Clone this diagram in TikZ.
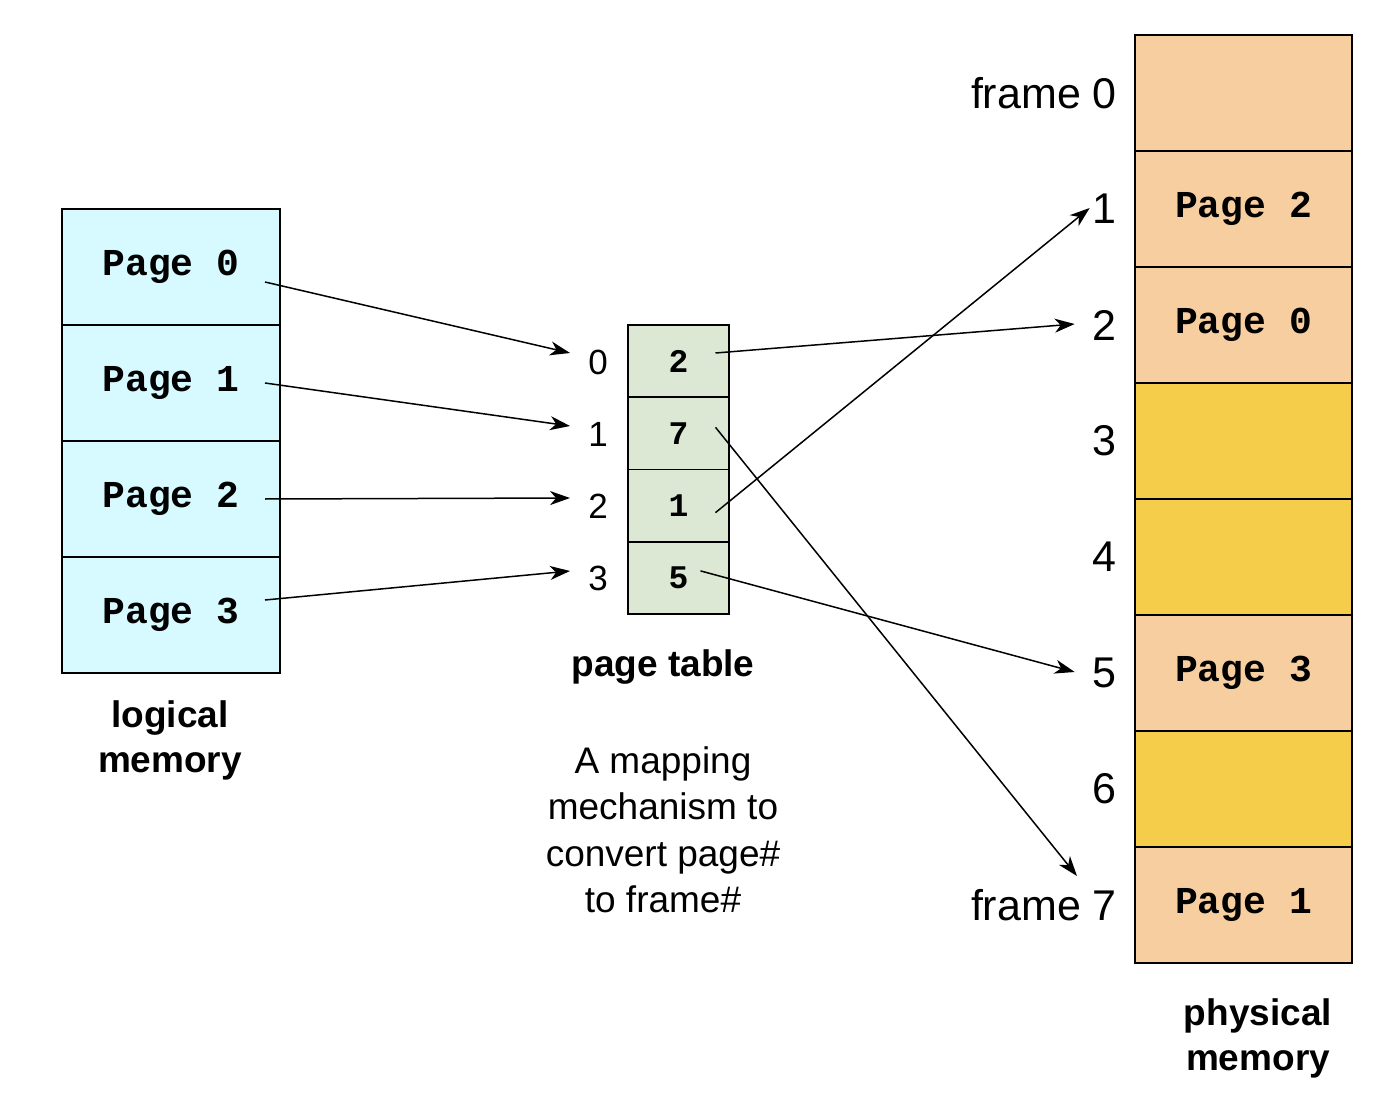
\documentclass[tikz,border=0pt]{standalone}
\usepackage{fontspec}
\setmainfont{Liberation Sans}
\setmonofont{Liberation Mono}
\usetikzlibrary{
  arrows.meta,
  calc
}
\definecolor{logicfill}{RGB}{214,250,255}
\definecolor{tablefill}{RGB}{221,232,212}
\definecolor{peach}{RGB}{246,206,160}
\definecolor{gold}{RGB}{245,205,74}
\tikzset{
  % For all memory cells.
  cell/.style={
    draw,
    line width=1.8pt,
    inner sep=0pt,
    outer sep=0pt},
%
  % For cells of logical memory.
  lcell/.style={
    cell,
    fill=logicfill,
    minimum width=218pt,
    minimum height=116pt,
    font=\fontsize{38}{40}\selectfont\ttfamily\bfseries},
%
  % For cells of the page table.
  tcell/.style={
    cell,
    fill=tablefill,
    minimum width=101pt,
    minimum height=72.3pt,
    font=\fontsize{33}{36}\selectfont\ttfamily\bfseries},
%
  % For frames of physical memory.
  pcell/.style={
    cell,
    minimum width=217pt,
    minimum height=116pt,
    font=\fontsize{38}{40}\selectfont\ttfamily\bfseries},
%
  % For page numbers left of the table.
  index/.style={
    inner sep=0pt,
    font=\fontsize{35}{38}\selectfont},
%
  % For frame numbers.
  frame label/.style={
    anchor=east,
    inner sep=0pt,
    font=\fontsize{43}{46}\selectfont},
%
  % For captions.
  caption/.style={
    align=center,
    font=\fontsize{37}{45}\selectfont\bfseries},
%
  % For the explanation.
  description/.style={
    align=center,
    font=\fontsize{37}{46.5}\selectfont},
%
  % For mappings.
  map/.style={
    line width=1.5pt,
    -{Stealth[length=20pt,width=14pt,inset=6pt]}},
}

\begin{document}
\begin{tikzpicture}[x=1pt,y=-1pt]
  \useasboundingbox (0,0) rectangle (1398,1094);

  % logical memory
  \foreach \i in {0,...,3}
    \node[lcell] (lm\i) at (171,267+116*\i) {Page \i};
  \node[caption] (lcap) at (170,740) {logical\\memory};

  % page table
  \foreach \i/\v in {0/2,1/7,2/1,3/5}
    \node[tcell] (pt\i) at (678.5,361+72.3*\i) {\v};
  \foreach \i in {0,...,3}
    \node[index] (i\i) at (598,362+72*\i) {\i};
  \node[caption] (tcap) at (663,667) {page table};
  \node[description] (expl) at (663,830)
    {A mapping\\mechanism to\\convert page\#\\to frame\#};

  % physical memory
  \foreach \i/\col/\txt in {0/peach/,1/peach/Page 2,2/peach/Page 0,
      3/gold/,4/gold/,5/peach/Page 3,6/gold/,7/peach/Page 1}
    \node[pcell, fill=\col] (pm\i) at (1243.5,93+116*\i) {\txt};
  \foreach \i/\t in {0/frame 0,1/1,2/2,3/3,4/4,5/5,6/6,7/frame 7}
    \node[frame label] (f\i) at (1117,93+116*\i) {\t};
  \node[caption] (pcap) at (1258,1038) {physical\\memory};

  % pages to table entries
  \draw[map] ([shift={(94,15)}]lm0.center) -- ([shift={(-18,-9)}]i0.west);
  \draw[map] ([shift={(94,0)}]lm1.center) -- ([shift={(-18,-8)}]i1.west);
  \draw[map] ([shift={(94,0)}]lm2.center) -- ([shift={(-18,-8)}]i2.west);
  \draw[map] ([shift={(94,-15)}]lm3.center) -- ([shift={(-18,-7)}]i3.west);

  % table entries to frames
  \draw[map] ([shift={(37,-8)}]pt0.center) -- ([shift={(-18,-1)}]f2.west);
  \draw[map] ([shift={(37,-6)}]pt1.center) -- ([shift={(-40,-13)}]f7.north east);
  \draw[map] ([shift={(37,7)}]pt2.center) -- ([shift={(-3,-1)}]f1.west);
  \draw[map] ([shift={(22,-7)}]pt3.center) -- ([shift={(-18,-1)}]f5.west);
\end{tikzpicture}
\end{document}
